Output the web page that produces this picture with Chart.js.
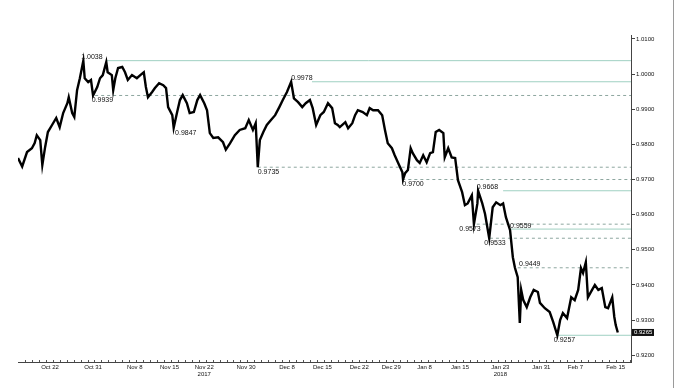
<!DOCTYPE html>
<html><head><meta charset="utf-8">
<script src="https://cdn.jsdelivr.net/npm/chart.js@4"></script>
<style>html,body{margin:0;padding:0;background:#fff}#wrap{width:675px;height:388px;position:relative}</style>
</head><body><div id="wrap"><canvas id="c" width="675" height="388"></canvas></div>
<script>
// trading-day index (x) and EUR price (y)
const priceDays = [0.0,0.6,1.3,2.0,2.4,2.7,3.2,3.5,3.9,4.3,4.9,5.5,6.0,6.5,7.1,7.3,7.8,8.1,8.5,8.9,9.4,9.6,10.1,10.5,10.8,11.4,11.8,12.2,12.7,12.9,13.5,13.7,14.0,14.4,15.0,15.4,15.8,16.4,17.1,17.6,18.1,18.4,18.7,19.3,19.7,20.3,20.9,21.3,21.6,22.2,22.4,22.9,23.3,23.7,24.3,24.7,25.3,25.8,26.2,26.8,27.2,27.6,28.1,28.8,29.5,29.9,30.5,31.2,31.9,32.7,33.2,33.8,34.2,34.5,34.8,35.3,35.8,36.4,37.0,37.6,38.1,38.7,39.3,39.7,40.3,40.9,41.4,42.0,42.4,42.9,43.5,44.0,44.6,45.2,45.6,46.0,46.3,47.1,47.5,48.1,48.5,48.9,49.6,50.2,50.6,51.1,51.8,52.4,52.8,53.2,53.8,54.2,54.7,55.3,55.4,55.7,56.1,56.5,56.8,57.4,57.8,58.3,58.8,59.3,59.7,60.1,60.6,61.2,61.4,61.9,62.4,62.9,63.3,63.9,64.3,64.7,65.3,65.6,66.1,66.2,66.8,67.2,67.8,68.3,68.8,69.4,69.8,70.2,70.8,71.2,71.5,71.9,72.2,72.4,72.7,73.2,73.7,74.2,74.8,75.1,75.8,76.5,77.0,77.6,78.0,78.4,79.0,79.6,80.1,80.6,81.0,81.3,81.7,82.0,82.6,83.0,83.5,84.0,84.5,84.9,85.5,85.8,86.0,86.3];
const priceValues = [0.9761,0.9737,0.9778,0.9789,0.9804,0.9826,0.9812,0.9741,0.9792,0.9835,0.9855,0.9875,0.9849,0.9889,0.9917,0.9934,0.9889,0.9878,0.9954,0.9988,1.0038,0.9988,0.9977,0.9983,0.9939,0.9963,0.9988,0.9997,1.0034,1.0005,0.9997,0.9954,0.9988,1.0017,1.0020,1.0005,0.9983,0.9997,0.9988,0.9997,1.0005,0.9963,0.9934,0.9949,0.9960,0.9974,0.9968,0.9960,0.9906,0.9883,0.9847,0.9892,0.9926,0.9940,0.9917,0.9889,0.9892,0.9926,0.9940,0.9917,0.9897,0.9832,0.9818,0.9820,0.9806,0.9785,0.9803,0.9826,0.9841,0.9846,0.9869,0.9841,0.9860,0.9735,0.9812,0.9835,0.9855,0.9869,0.9883,0.9906,0.9926,0.9949,0.9978,0.9931,0.9920,0.9906,0.9917,0.9926,0.9903,0.9855,0.9883,0.9892,0.9917,0.9903,0.9860,0.9855,0.9849,0.9863,0.9846,0.9860,0.9883,0.9897,0.9892,0.9883,0.9903,0.9897,0.9897,0.9883,0.9841,0.9803,0.9789,0.9769,0.9747,0.9721,0.9700,0.9718,0.9727,0.9789,0.9775,0.9755,0.9747,0.9769,0.9749,0.9775,0.9778,0.9835,0.9841,0.9832,0.9763,0.9789,0.9763,0.9761,0.9698,0.9664,0.9627,0.9632,0.9655,0.9573,0.9632,0.9668,0.9632,0.9602,0.9533,0.9621,0.9635,0.9627,0.9632,0.9593,0.9556,0.9479,0.9449,0.9422,0.9292,0.9386,0.9357,0.9337,0.9365,0.9386,0.9380,0.9349,0.9334,0.9323,0.9295,0.9257,0.9300,0.9320,0.9306,0.9365,0.9357,0.9386,0.9448,0.9434,0.9465,0.9365,0.9386,0.9400,0.9386,0.9391,0.9337,0.9334,0.9365,0.9309,0.9286,0.9265];

const tickDays = [4.6,10.8,16.8,21.8,26.8,32.8,38.7,43.8,49.1,53.7,58.5,63.6,69.4,75.3,80.2,86.0];
const tickLabels = [['Oct 22'],['Oct 31'],['Nov 8'],['Nov 15'],['Nov 22','2017'],['Nov 30'],['Dec 8'],['Dec 15'],['Dec 22'],['Dec 29'],['Jan 8'],['Jan 15'],['Jan 23','2018'],['Jan 31'],['Feb 7'],['Feb 15']];
const yTicks = [0.92,0.93,0.94,0.95,0.96,0.97,0.98,0.99,1.00,1.01];

// support / resistance levels
const levelValues = [1.0038,0.9978,0.9939,0.9847,0.9735,0.9700,0.9668,0.9573,0.9559,0.9533,0.9449,0.9257];
const levelStart  = [12.7,42.3,11.1,null,34.5,55.3,69.8,66.0,70.8,67.9,71.9,77.6];
const levelSolid  = [true,true,false,null,false,false,true,false,true,false,false,true];
const labelDay    = [9.1,39.3,10.6,22.6,34.5,55.3,66.0,63.5,70.8,67.1,72.1,77.1];
const labelAbove  = [true,true,false,false,false,false,true,false,true,false,true,false];
const lastPrice = 0.9265;
const xMax = 88.2;

const FONT = 'Liberation Sans, Arial, sans-serif';

const levelDatasets = [];
levelValues.forEach((v,i)=>{
  if (levelStart[i] === null) return;
  levelDatasets.push({
    data:[{x:levelStart[i],y:v},{x:xMax,y:v}],
    borderColor: levelSolid[i] ? '#9fd0c2' : '#8ea7a0',
    borderWidth: 1,
    borderDash: levelSolid[i] ? [] : [3,3],
    pointRadius: 0, order: 2
  });
});

const annot = {
  id:'annot',
  afterDatasetsDraw(chart){
    const {ctx, scales:{x,y}} = chart;
    ctx.save();
    ctx.font = '7px ' + FONT;
    ctx.fillStyle = '#111';
    ctx.textAlign = 'left';
    levelValues.forEach((v,i)=>{
      const px = x.getPixelForValue(labelDay[i]);
      const py = y.getPixelForValue(v);
      if (labelAbove[i]) { ctx.textBaseline='alphabetic'; ctx.fillText(v.toFixed(4), px, py-1.5); }
      else { ctx.textBaseline='top'; ctx.fillText(v.toFixed(4), px, py+1.5); }
    });
    // x-axis day ticks
    ctx.strokeStyle = '#555'; ctx.lineWidth = 1;
    for (let d = 1; d < xMax; d++) {
      const px = Math.round(x.getPixelForValue(d)) + 0.5;
      ctx.beginPath(); ctx.moveTo(px, y.bottom); ctx.lineTo(px, y.bottom-2); ctx.stroke();
    }
    // last price box
    const ly = y.getPixelForValue(lastPrice);
    ctx.fillStyle = '#111';
    ctx.fillRect(x.right+1, ly-3.5, 22, 7);
    ctx.fillStyle = '#fff';
    ctx.font = '6px ' + FONT;
    ctx.textBaseline = 'middle';
    ctx.fillText(lastPrice.toFixed(4), x.right+3, ly);
    // frame edge
    ctx.strokeStyle = '#9a9a9a';
    ctx.beginPath(); ctx.moveTo(673.5,0); ctx.lineTo(673.5,388); ctx.stroke();
    ctx.restore();
  }
};

new Chart(document.getElementById('c'), {
  type:'line',
  data:{datasets:[{
    data: priceDays.map((d,i)=>({x:d,y:priceValues[i]})),
    borderColor:'#000', borderWidth:2.4, pointRadius:0, tension:0, order:0,
    borderJoinStyle:'miter'
  }, ...levelDatasets]},
  options:{
    responsive:false, animation:false, devicePixelRatio:1,
    layout:{padding:{left:18,top:35,right:0,bottom:0}},
    plugins:{legend:{display:false}, tooltip:{enabled:false}},
    scales:{
      x:{type:'linear', min:0, max:xMax,
        grid:{display:false, drawTicks:false},
        border:{color:'#444', width:1},
        afterBuildTicks:s=>{s.ticks = tickDays.map(v=>({value:v}));},
        ticks:{autoSkip:false, maxRotation:0, padding:2, color:'#111',
          font:{family:FONT, size:6, lineHeight:1.1},
          callback:(v,i)=>tickLabels[i]},
        afterFit:s=>{s.height=26;}
      },
      y:{position:'right', min:0.9181, max:1.0111,
        grid:{drawOnChartArea:false, drawTicks:true, tickLength:4, color:'#444'},
        border:{color:'#444', width:1},
        afterBuildTicks:s=>{s.ticks = yTicks.map(v=>({value:v}));},
        ticks:{padding:1, color:'#111', font:{family:FONT, size:6},
          callback:v=>v.toFixed(4)},
        afterFit:s=>{s.width=44;}
      }
    }
  },
  plugins:[annot]
});
</script></body></html>
